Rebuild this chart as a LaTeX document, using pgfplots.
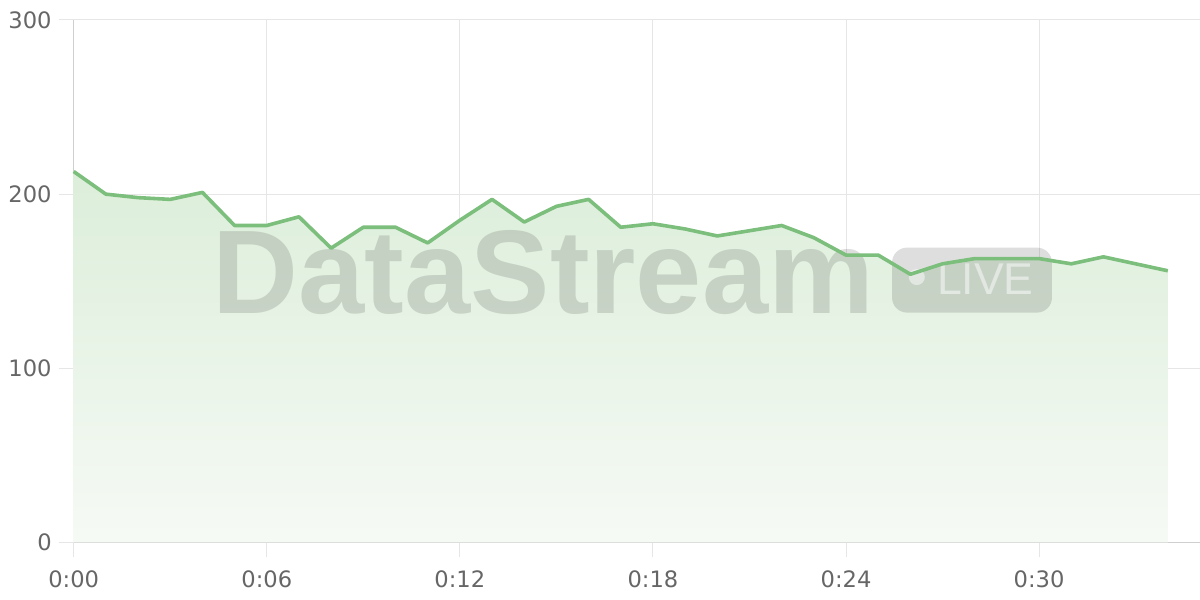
\documentclass[border=0pt]{standalone}
\usepackage{fontspec}
\setmainfont{DejaVu Sans}
\newfontfamily\markfont{Liberation Sans}
\usepackage{pgfplots}
\usepackage{pgfplotstable}
\pgfplotsset{compat=1.18}

\definecolor{linegreen}{RGB}{124,190,124}
\definecolor{filltop}{RGB}{220,238,218}
\definecolor{fillbot}{RGB}{246,250,245}
\definecolor{gridgray}{RGB}{230,230,230}
\definecolor{axisgray}{RGB}{205,208,205}
\definecolor{labelgray}{RGB}{102,102,102}

\pgfplotstableread{
t v
0 213
1 200
2 198
3 197
4 201
5 182
6 182
7 187
8 169
9 181
10 181
11 172
12 185
13 197
14 184
15 193
16 197
17 181
18 183
19 180
20 176
21 179
22 182
23 175
24 165
25 165
26 154
27 160
28 163
29 163
30 163
31 160
32 164
33 160
34 156
}\flow

\begin{document}
\begin{tikzpicture}
\begin{axis}[
    name=ax,
    scale only axis,
    width=563.15pt, height=261.25pt,
    xmin=0, xmax=35, ymin=0, ymax=300,
    axis x line*=bottom, axis y line*=left,
    axis line style={draw=axisgray, line width=0.6pt, -},
    xtick={0,6,12,18,24,30},
    xticklabels={0:00,0:06,0:12,0:18,0:24,0:30},
    ytick={0,100,200,300},
    grid=major,
    major grid style={draw=gridgray, line width=0.5pt},
    tick align=outside,
    major tick length=7.5pt,
    major tick style={draw=gridgray, line width=0.5pt},
    tick label style={font=\fontsize{11.3}{13}\selectfont, text=labelgray},
    xticklabel style={yshift=-3pt},
    /pgf/number format/assume math mode=true,
    clip=false,
]
\addplot[draw=none, top color=filltop, bottom color=fillbot, forget plot]
    table[x=t, y=v] {\flow} \closedcycle;

\node[anchor=base, text=black, opacity=0.13,
      font=\markfont\bfseries\fontsize{59.5}{62}\selectfont]
    at (axis cs:14.6,131.7) {DataStream};
\fill[black, opacity=0.13, rounded corners=7.5pt]
    (axis cs:25.43,132.0) rectangle (axis cs:30.40,169.3);
\fill[white, opacity=0.5] (axis cs:26.2,152.4) circle[radius=4pt];
\node[anchor=base, text=white, opacity=0.5,
      font=\markfont\fontsize{22.3}{24}\selectfont]
    at (axis cs:28.33,142.1) {LIVE};

\addplot[draw=linegreen, line width=1.8pt, no marks, line join=round]
    table[x=t, y=v] {\flow};
\end{axis}
\pgfresetboundingbox
\path[use as bounding box]
    ([shift={(-36.85pt,-28.75pt)}]ax.south west)
    rectangle ([shift={(0pt,10pt)}]ax.north east);
\end{tikzpicture}
\end{document}
